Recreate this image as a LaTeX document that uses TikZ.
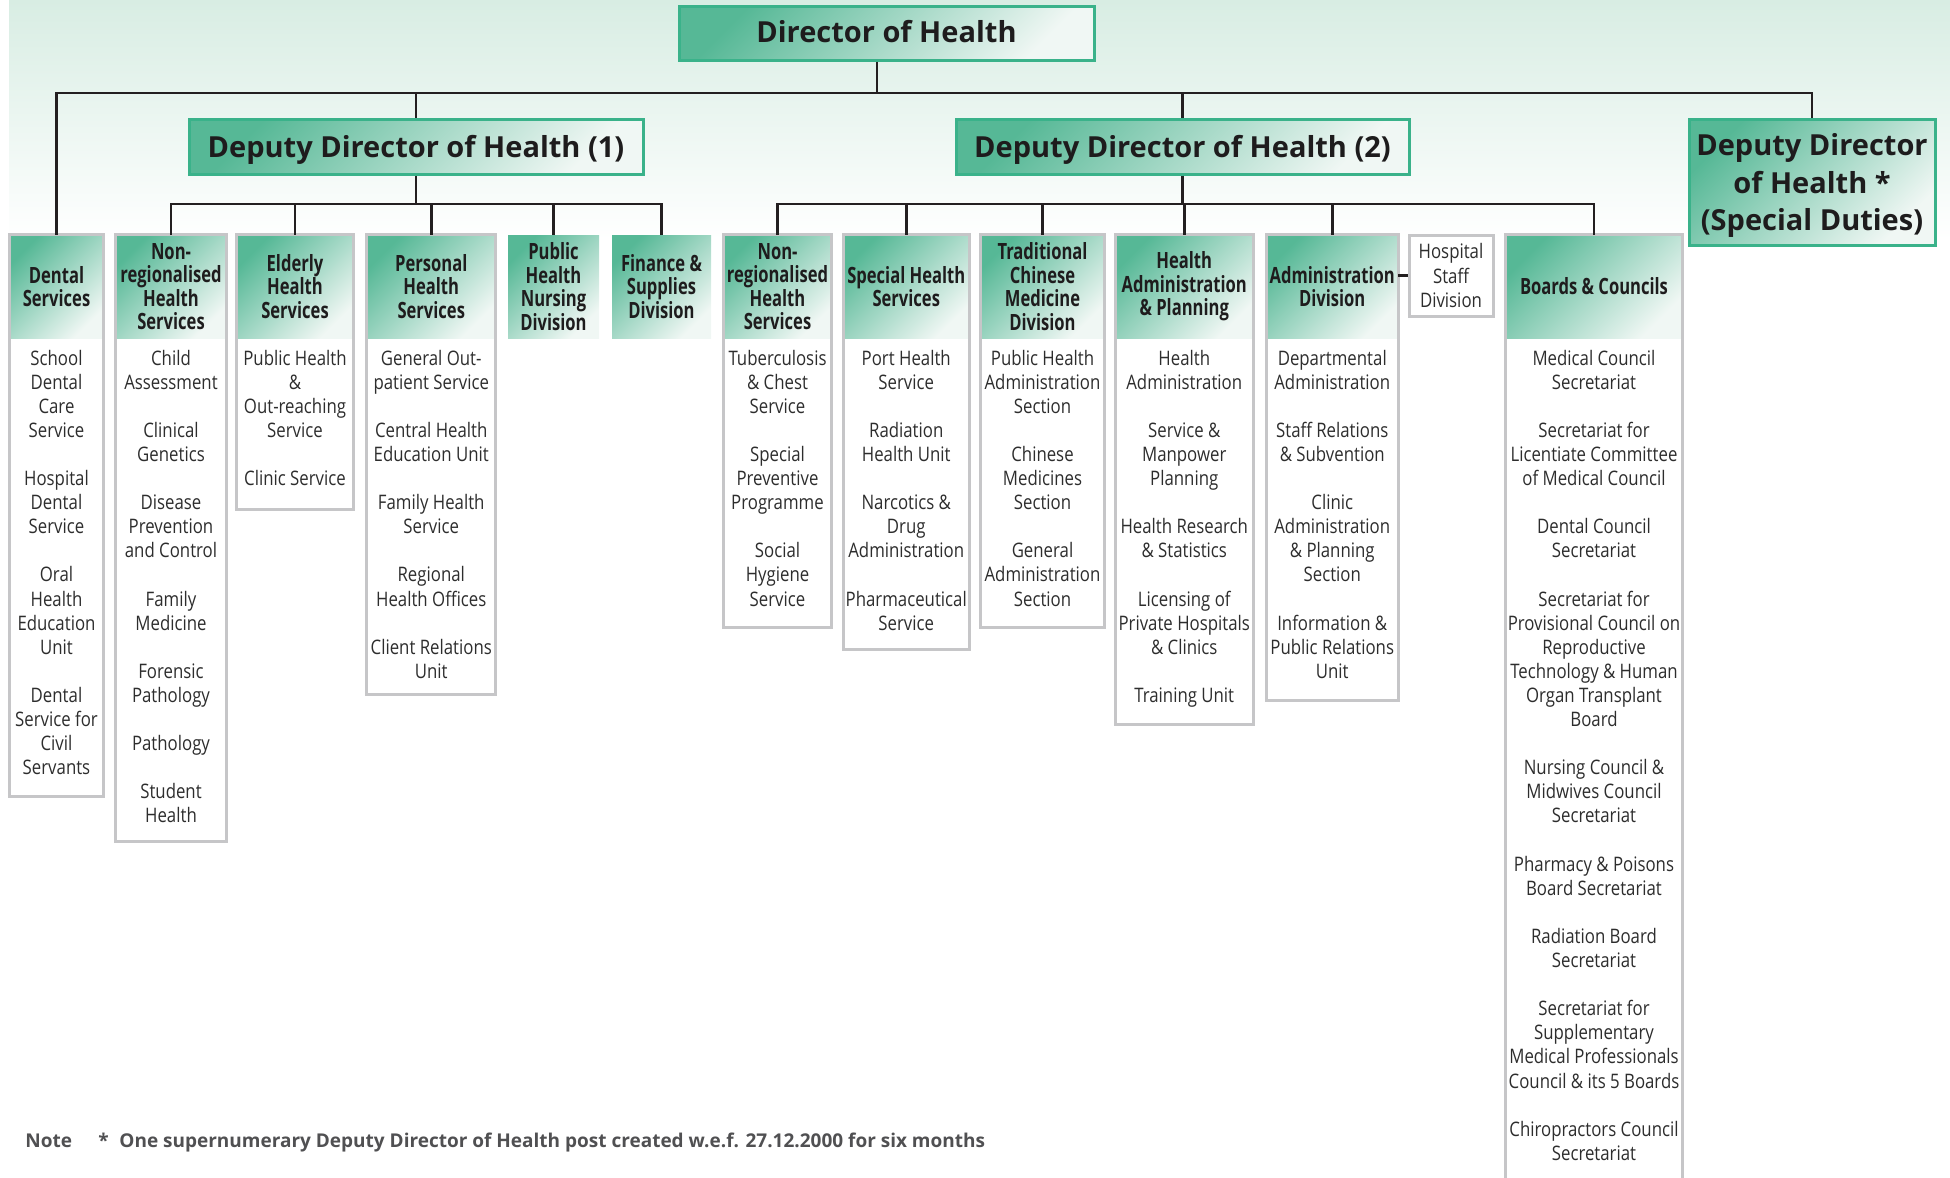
\documentclass[tikz,border=0pt]{standalone}
\usepackage{fontspec}
\setmainfont{Open Sans}
\newfontfamily\titlefont{Open Sans}
\newfontfamily\headfont{Open Sans}[FakeStretch=0.74]
\newfontfamily\listfont{Open Sans}[FakeStretch=0.84]
\newfontfamily\notefont{Open Sans}
\usepackage{xcolor}
\usetikzlibrary{positioning}
\definecolor{hdteal}{RGB}{86,184,150}
\definecolor{hdlight}{RGB}{240,247,244}
\definecolor{titleline}{RGB}{58,178,138}
\definecolor{framegray}{RGB}{198,198,200}
\definecolor{wireblack}{RGB}{35,31,32}
\definecolor{inktext}{RGB}{30,28,29}
\definecolor{listink}{RGB}{45,45,45}
\definecolor{noteink}{RGB}{80,80,82}
\definecolor{bggreen}{RGB}{216,237,227}
\begin{document}
\begin{tikzpicture}[x=0.5pt,y=-0.5pt,
    wire/.style={draw=wireblack, line width=1.25pt},
    frame/.style={draw=framegray, line width=1.5pt},
    title/.style={draw=titleline, line width=1.5pt, top color=hdteal, bottom color=hdlight, shading angle=45, inner sep=0pt, align=center, text=inktext, font=\titlefont\bfseries\fontsize{14.5}{18.65}\selectfont},
    head/.style={inner sep=0pt, minimum height=51.5pt, top color=hdteal, bottom color=hdlight, shading angle=45, align=center, text=inktext, font=\headfont\bfseries\fontsize{11.2}{11.7}\selectfont},
    list/.style={inner sep=0pt, align=center, text=listink, font=\listfont\fontsize{10}{12.05}\selectfont},
    note/.style={inner sep=0pt, text=noteink, font=\notefont\bfseries\fontsize{9.5}{11}\selectfont}]
                \useasboundingbox (0,0) rectangle (1950,1178);%

                % Background wash
                \shade [top color=bggreen, bottom color=white] (9,0) rectangle (1950,240);%

                % Marking box Director of Health
                \node [title, minimum width=207.5pt, minimum height=27pt, text depth=1.2pt] (dir) at (886.5,33) {Director of Health};%

                % Marking boxes of the deputies
                \node [title, minimum width=227pt, minimum height=27.5pt, text depth=0pt] (dep1) at (416,146.5) {Deputy Director of Health (1)};%
                \node [title, minimum width=226.5pt, minimum height=27.5pt, text depth=0pt] (dep2) at (1182.5,146.5) {Deputy Director of Health (2)};%
                \node [title, minimum width=123pt, minimum height=63pt, text depth=0pt] (depsd) at (1812,182) {Deputy Director\\of Health *\\(Special Duties)};%

                % Marking box Dental Services
                \node [head, minimum width=46.5pt] (dent) at (56.5,286.5) {Dental\\Services};%
                \node [list, below=5.5pt of dent] (dentl) {School\\Dental\\Care\\Service\\[\baselineskip]
                    Hospital\\Dental\\Service\\[\baselineskip]
                    Oral\\Health\\Education\\Unit\\[\baselineskip]
                    Dental\\Service for\\Civil\\Servants};%
                \draw [frame] (dent.north west) rectangle (dent.east |- 0,796);%

                % Marking box Non-regionalised Health Services (1)
                \node [head, minimum width=55pt] (nrh1) at (171,286.5) {Non-\\regionalised\\Health\\Services};%
                \node [list, below=5.5pt of nrh1] (nrh1l) {Child\\Assessment\\[\baselineskip]
                    Clinical\\Genetics\\[\baselineskip]
                    Disease\\Prevention\\and Control\\[\baselineskip]
                    Family\\Medicine\\[\baselineskip]
                    Forensic\\Pathology\\[\baselineskip]
                    Pathology\\[\baselineskip]
                    Student\\Health};%
                \draw [frame] (nrh1.north west) rectangle (nrh1.east |- 0,841);%

                % Marking box Elderly Health Services
                \node [head, minimum width=58pt] (eld) at (295,286.5) {Elderly\\Health\\Services};%
                \node [list, below=5.5pt of eld] (eldl) {Public Health\\\&\\Out-reaching\\Service\\[\baselineskip]
                    Clinic Service};%
                \draw [frame] (eld.north west) rectangle (eld.east |- 0,509);%

                % Marking box Personal Health Services
                \node [head, minimum width=64.25pt] (pers) at (431.25,286.5) {Personal\\Health\\Services};%
                \node [list, below=5.5pt of pers] (persl) {General Out-\\patient Service\\[\baselineskip]
                    Central Health\\Education Unit\\[\baselineskip]
                    Family Health\\Service\\[\baselineskip]
                    Regional\\Health Offices\\[\baselineskip]
                    Client Relations\\Unit};%
                \draw [frame] (pers.north west) rectangle (pers.east |- 0,694);%

                % Marking box Public Health Nursing Division
                \node [head, minimum width=45.5pt] (phn) at (553.5,286.5) {Public\\Health\\Nursing\\Division};%

                % Marking box Finance & Supplies Division
                \node [head, minimum width=49.5pt] (fin) at (661.5,286.5) {Finance \&\\Supplies\\Division};%

                % Marking box Non-regionalised Health Services (2)
                \node [head, minimum width=53.5pt] (nrh2) at (777.5,286.5) {Non-\\regionalised\\Health\\Services};%
                \node [list, below=5.5pt of nrh2] (nrh2l) {Tuberculosis\\\& Chest\\Service\\[\baselineskip]
                    Special\\Preventive\\Programme\\[\baselineskip]
                    Social\\Hygiene\\Service};%
                \draw [frame] (nrh2.north west) rectangle (nrh2.east |- 0,627);%

                % Marking box Special Health Services
                \node [head, minimum width=62.75pt] (spec) at (906.25,286.5) {Special Health\\Services};%
                \node [list, below=5.5pt of spec] (specl) {Port Health\\Service\\[\baselineskip]
                    Radiation\\Health Unit\\[\baselineskip]
                    Narcotics \&\\Drug\\Administration\\[\baselineskip]
                    Pharmaceutical\\Service};%
                \draw [frame] (spec.north west) rectangle (spec.east |- 0,649);%

                % Marking box Traditional Chinese Medicine Division
                \node [head, minimum width=61.5pt] (tcm) at (1042.5,286.5) {Traditional\\Chinese\\Medicine\\Division};%
                \node [list, below=5.5pt of tcm] (tcml) {Public Health\\Administration\\Section\\[\baselineskip]
                    Chinese\\Medicines\\Section\\[\baselineskip]
                    General\\Administration\\Section};%
                \draw [frame] (tcm.north west) rectangle (tcm.east |- 0,627);%

                % Marking box Health Administration & Planning
                \node [head, minimum width=68.75pt] (hap) at (1184.25,286.5) {Health\\Administration\\\& Planning};%
                \node [list, below=5.5pt of hap] (hapl) {Health\\Administration\\[\baselineskip]
                    Service \&\\Manpower\\Planning\\[\baselineskip]
                    Health Research\\\& Statistics\\[\baselineskip]
                    Licensing of\\Private Hospitals\\\& Clinics\\[\baselineskip]
                    Training Unit};%
                \draw [frame] (hap.north west) rectangle (hap.east |- 0,724);%

                % Marking box Administration Division
                \node [head, minimum width=65.75pt] (adm) at (1332.25,286.5) {Administration\\Division};%
                \node [list, below=5.5pt of adm] (adml) {Departmental\\Administration\\[\baselineskip]
                    Staff Relations\\\& Subvention\\[\baselineskip]
                    Clinic\\Administration\\\& Planning\\Section\\[\baselineskip]
                    Information \&\\Public Relations\\Unit};%
                \draw [frame] (adm.north west) rectangle (adm.east |- 0,700);%

                % Marking box Hospital Staff Division
                \node [list, draw=framegray, line width=1.5pt, fill=white, minimum width=42pt, minimum height=40.5pt, font=\listfont\fontsize{10}{12.4}\selectfont] (hsd) at (1451,275.5) {Hospital\\Staff\\Division};%

                % Marking box Boards & Councils
                \node [head, minimum width=88pt] (brd) at (1594,286.5) {Boards \& Councils};%
                \node [list, below=5.5pt of brd] (brdl) {Medical Council\\Secretariat\\[\baselineskip]
                    Secretariat for\\Licentiate Committee\\of Medical Council\\[\baselineskip]
                    Dental Council\\Secretariat\\[\baselineskip]
                    Secretariat for\\Provisional Council on\\Reproductive\\Technology \& Human\\Organ Transplant\\Board\\[\baselineskip]
                    Nursing Council \&\\Midwives Council\\Secretariat\\[\baselineskip]
                    Pharmacy \& Poisons\\Board Secretariat\\[\baselineskip]
                    Radiation Board\\Secretariat\\[\baselineskip]
                    Secretariat for\\Supplementary\\Medical Professionals\\Council \& its 5 Boards\\[\baselineskip]
                    Chiropractors Council\\Secretariat};%
                \draw [frame] (brd.west |- 0,1185) -- (brd.north west) -- (brd.north east) -- (brd.east |- 0,1185);%

                % Drawing line Director to deputies
                \coordinate (tbus) at (877,93);%
                \draw [wire] ([xshift=-4.75pt]dir.south) -- (tbus);%
                \draw [wire] (dent.north) |- (tbus) -| (depsd.north);%
                \draw [wire] (dep1.north) -- (dep1.north |- tbus);%
                \draw [wire] (dep2.north) -- (dep2.north |- tbus);%

                % Drawing line Deputy (1) to its services
                \coordinate (bus1) at (416,204);%
                \draw [wire] (dep1.south) -- (bus1);%
                \draw [wire] (nrh1.north) |- (bus1) -| (fin.north);%
                \draw [wire] (eld.north) -- (eld.north |- bus1);%
                \draw [wire] (pers.north) -- (pers.north |- bus1);%
                \draw [wire] (phn.north) -- (phn.north |- bus1);%

                % Drawing line Deputy (2) to its services
                \coordinate (bus2) at (1182.5,204);%
                \draw [wire] (dep2.south) -- (bus2);%
                \draw [wire] (nrh2.north) |- (bus2) -| (brd.north);%
                \draw [wire] (spec.north) -- (spec.north |- bus2);%
                \draw [wire] (tcm.north) -- (tcm.north |- bus2);%
                \draw [wire] (hap.north) -- (hap.north |- bus2);%
                \draw [wire] (adm.north) -- (adm.north |- bus2);%

                % Drawing line Administration to Hospital Staff
                \draw [wire] (adm.east |- hsd.west) -- (hsd.west);%

                % Marking note
                \node [note, anchor=base west] (notehd) at (25,1147) {Note};%
                \node [note, anchor=base west] (notestar) at (98,1147) {*};%
                \node [note, anchor=base west] (notetxt) at (119,1147) {One supernumerary Deputy Director of Health post created w.e.f. 27.12.2000 for six months};%
\end{tikzpicture}
\end{document}
